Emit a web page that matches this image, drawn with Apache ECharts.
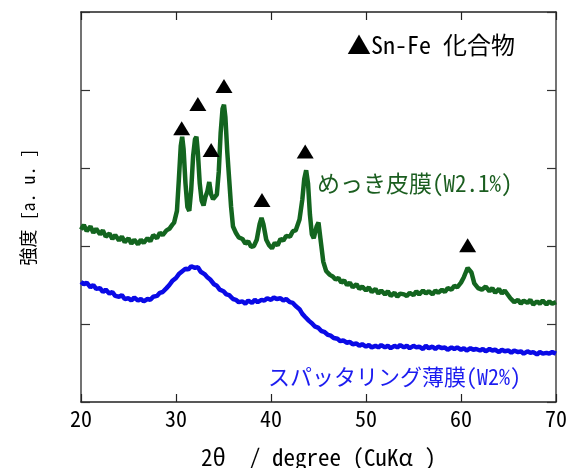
<!DOCTYPE html>
<html>
<head>
<meta charset="utf-8">
<script src="https://cdn.jsdelivr.net/npm/echarts@6/dist/echarts.min.js"></script>
<style>html,body{margin:0;padding:0;background:#fff;}#c{width:568px;height:468px;}</style>
</head>
<body>
<div id="c"></div>
<script>
// ---- data (2θ in degrees, intensity in arbitrary units) ----
const xTicks = [20, 30, 40, 50, 60, 70];

const platedX = [20.0,20.3,20.6,21.0,21.3,21.6,22.0,22.3,22.6,23.0,23.3,23.6,24.0,24.3,24.6,25.0,25.3,25.6,26.0,26.3,26.6,27.0,27.3,27.6,28.0,28.3,28.6,29.0,29.3,29.6,29.8,30.1,30.3,30.5,30.65,30.8,31.0,31.2,31.4,31.6,31.8,32.0,32.15,32.3,32.5,32.7,32.9,33.1,33.3,33.5,33.7,33.9,34.1,34.3,34.5,34.7,34.9,35.05,35.2,35.4,35.6,35.8,36.0,36.3,36.6,37.0,37.3,37.6,37.9,38.2,38.5,38.8,39.0,39.2,39.5,39.8,40.1,40.4,40.7,41.0,41.3,41.6,42.0,42.3,42.6,43.0,43.3,43.5,43.7,43.9,44.1,44.3,44.5,44.8,45.0,45.2,45.5,45.8,46.2,46.5,46.8,47.1,47.4,47.7,48.0,48.3,48.6,49.0,49.3,49.6,50.0,50.3,50.6,51.0,51.3,51.6,52.0,52.3,52.6,53.0,53.3,53.6,54.0,54.3,54.6,55.0,55.3,55.6,56.0,56.3,56.6,57.0,57.3,57.6,58.0,58.3,58.6,59.0,59.3,59.6,60.0,60.3,60.5,60.7,60.9,61.1,61.4,61.8,62.2,62.6,63.0,63.3,63.6,64.0,64.3,64.6,64.8,65.2,65.6,66.0,66.3,66.6,67.0,67.3,67.6,68.0,68.3,68.6,69.0,69.3,69.6,70.0];
const platedY = [2.21,2.27,2.19,2.25,2.17,2.22,2.15,2.20,2.12,2.16,2.09,2.14,2.07,2.12,2.05,2.10,2.03,2.08,2.02,2.08,2.04,2.10,2.06,2.14,2.10,2.17,2.14,2.20,2.22,2.27,2.30,2.45,2.85,3.28,3.40,3.24,2.80,2.50,2.45,2.72,3.15,3.37,3.40,3.20,2.80,2.58,2.52,2.63,2.70,2.82,2.66,2.60,2.58,2.66,2.95,3.45,3.76,3.81,3.65,3.20,2.85,2.50,2.25,2.17,2.11,2.09,2.03,2.06,1.99,2.00,2.08,2.28,2.36,2.28,2.08,2.01,1.97,2.04,2.01,2.09,2.07,2.13,2.12,2.19,2.20,2.34,2.60,2.86,2.97,2.80,2.40,2.15,2.10,2.25,2.30,2.10,1.80,1.68,1.63,1.61,1.57,1.59,1.53,1.56,1.50,1.53,1.47,1.51,1.45,1.48,1.43,1.47,1.41,1.45,1.39,1.43,1.38,1.42,1.36,1.40,1.35,1.39,1.38,1.36,1.40,1.37,1.42,1.38,1.43,1.39,1.42,1.38,1.43,1.40,1.44,1.41,1.46,1.44,1.49,1.47,1.53,1.60,1.66,1.72,1.74,1.66,1.52,1.46,1.44,1.48,1.42,1.46,1.40,1.45,1.39,1.43,1.41,1.33,1.28,1.31,1.26,1.30,1.27,1.31,1.25,1.29,1.26,1.30,1.25,1.29,1.26,1.28];

const sputterX = [20.0,20.3,20.6,21.0,21.3,21.6,22.0,22.3,22.6,23.0,23.3,23.6,24.0,24.3,24.6,25.0,25.3,25.6,26.0,26.3,26.6,27.0,27.3,27.6,28.0,28.3,28.6,29.0,29.3,29.6,30.0,30.3,30.6,31.0,31.3,31.6,32.0,32.3,32.6,33.0,33.3,33.6,34.0,34.3,34.6,35.0,35.3,35.6,36.0,36.3,36.6,37.0,37.3,37.6,38.0,38.3,38.6,39.0,39.3,39.6,40.0,40.3,40.6,41.0,41.3,41.6,42.0,42.3,42.6,43.0,43.3,43.6,44.0,44.3,44.6,45.0,45.3,45.6,46.0,46.3,46.6,47.0,47.3,47.6,48.0,48.3,48.6,49.0,49.3,49.6,50.0,50.3,50.6,51.0,51.3,51.6,52.0,52.3,52.6,53.0,53.3,53.6,54.0,54.3,54.6,55.0,55.3,55.6,56.0,56.3,56.6,57.0,57.3,57.6,58.0,58.3,58.6,59.0,59.3,59.6,60.0,60.3,60.6,61.0,61.3,61.6,62.0,62.3,62.6,63.0,63.3,63.6,64.0,64.3,64.6,65.0,65.3,65.6,66.0,66.3,66.6,67.0,67.3,67.6,68.0,68.3,68.6,69.0,69.3,69.6,70.0];
const sputterY = [
  1.54,1.51,1.53, 1.47,1.50,1.45, 1.46,1.41,1.44, 1.39,1.41,1.36, 1.35,1.37,1.32,
  1.33,1.30,1.34, 1.30,1.32,1.29, 1.32,1.31,1.35, 1.36,1.40,1.41, 1.46,1.50,1.55,
  1.59,1.64,1.67, 1.71,1.70,1.74, 1.72,1.73,1.67, 1.64,1.60,1.57, 1.51,1.49,1.44,
  1.42,1.38,1.37, 1.32,1.31,1.28, 1.29,1.26,1.30, 1.27,1.31,1.28, 1.31,1.30,1.33,
  1.31,1.34,1.32, 1.33,1.30,1.32, 1.28,1.27,1.23, 1.19,1.13,1.09, 1.04,1.01,0.97,
  0.95,0.91,0.90, 0.86,0.85,0.82, 0.81,0.78,0.79, 0.76,0.77,0.74, 0.75,0.72,0.74,
  0.71,0.73,0.70, 0.72,0.70,0.73, 0.70,0.72,0.69, 0.72,0.70,0.73, 0.70,0.72,0.69,
  0.72,0.70,0.71, 0.68,0.72,0.69, 0.71,0.68,0.71, 0.69,0.70,0.67, 0.70,0.68,0.70,
  0.67,0.69,0.66, 0.69,0.67,0.68, 0.66,0.68,0.65, 0.68,0.66,0.67, 0.64,0.67,0.65,
  0.66,0.63,0.66, 0.64,0.65,0.62, 0.65,0.63,0.64, 0.61,0.64,0.62, 0.63,0.62,0.64,
  0.62];

// Sn-Fe compound peak markers
const markX = [30.6, 32.3, 33.7, 35.05, 39.05, 43.6, 60.7];
const markY = [3.51, 3.82, 3.23, 4.05, 2.59, 3.21, 2.01];

const legendText = '▲Sn-Fe 化合物';
const platedLabel = 'めっき皮膜(W2.1%)';
const sputterLabel = 'スパッタリング薄膜(W2%)';
const xName = '2θ  / degree (CuKα )';
const yName = '強度 [a. u. ]';

const FONT = '"Noto Sans Mono CJK JP", "Noto Sans CJK JP", "Noto Sans", sans-serif';
const GREEN = '#13651f';
const BLUE = '#0a0ae6';

function zip(a, b) { return a.map((v, i) => [v, b[i]]); }

const chart = echarts.init(document.getElementById('c'), null, {renderer: 'canvas'});
const axisCommon = {
  min: 20, max: 70, interval: 10,
  axisLine: {show: true, onZero: false, lineStyle: {color: '#222', width: 1.5}},
  axisTick: {show: true, inside: true, length: 8, lineStyle: {color: '#222', width: 1.2}},
  splitLine: {show: false}
};
const yCommon = {
  type: 'value', min: 0, max: 5, interval: 1,
  axisLine: {show: true, onZero: false, lineStyle: {color: '#444', width: 1.5}},
  axisTick: {show: true, inside: true, length: 9, lineStyle: {color: '#333', width: 1.2}},
  axisLabel: {show: false},
  splitLine: {show: false}
};
chart.setOption({
  backgroundColor: '#fff',
  animation: false,
  grid: {left: 81, right: 12, top: 12, bottom: 66, outerBoundsMode: 'none', containLabel: false},
  xAxis: [
    Object.assign({
      type: 'value', position: 'bottom',
      axisLabel: {show: true, margin: 6, color: '#000', fontSize: 22, fontFamily: FONT},
      name: xName, nameLocation: 'middle', nameGap: 44,
      nameTextStyle: {color: '#000', fontSize: 23, fontFamily: FONT}
    }, axisCommon),
    Object.assign({type: 'value', position: 'top', axisLabel: {show: false}}, axisCommon)
  ],
  yAxis: [
    Object.assign({
      position: 'left',
      name: yName, nameLocation: 'middle', nameGap: 44, nameRotate: 90,
      nameTextStyle: {color: '#000', fontSize: 18, fontFamily: FONT}
    }, yCommon),
    Object.assign({position: 'right'}, yCommon)
  ],
  series: [
    {type: 'line', data: zip(platedX, platedY), showSymbol: false, symbol: 'none',
     lineStyle: {color: GREEN, width: 4.5}, z: 2},
    {type: 'line', data: zip(sputterX, sputterY), showSymbol: false, symbol: 'none',
     lineStyle: {color: BLUE, width: 4.5}, z: 2},
    {type: 'scatter', data: zip(markX, markY), symbol: 'triangle', symbolSize: [17, 14],
     itemStyle: {color: '#000', opacity: 1}, z: 3}
  ],
  graphic: [
    {type: 'text', x: 347, y: 45, style: {text: legendText, fill: '#000', fontSize: 24, fontFamily: FONT, verticalAlign: 'middle', align: 'left'}},
    {type: 'text', x: 317, y: 183, style: {text: platedLabel, fill: '#1b5e20', fontSize: 23, fontFamily: FONT, verticalAlign: 'middle', align: 'left'}},
    {type: 'text', x: 268, y: 377, style: {text: sputterLabel, fill: '#1c1cf0', fontSize: 22, fontFamily: FONT, verticalAlign: 'middle', align: 'left'}}
  ]
});
</script>
</body>
</html>
